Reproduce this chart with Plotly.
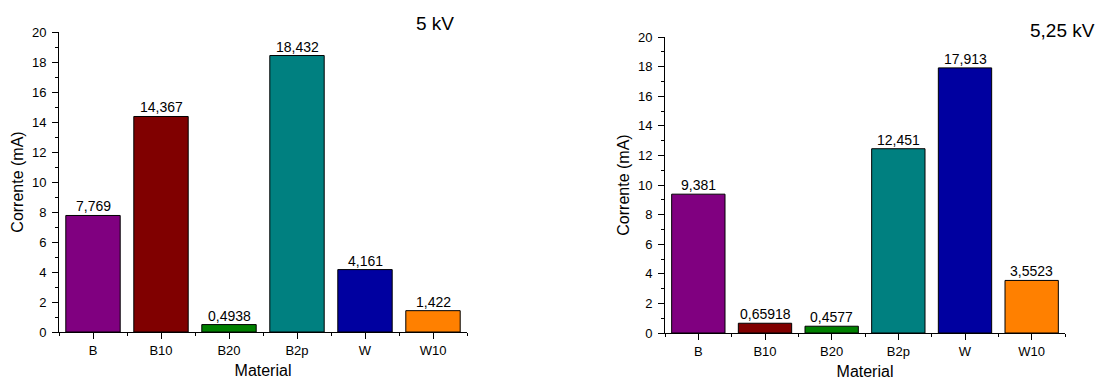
import plotly.graph_objects as go

categories = ["B", "B10", "B20", "B2p", "W", "W10"]
values_5kv = [7.769, 14.367, 0.4938, 18.432, 4.161, 1.422]
values_525kv = [9.381, 0.65918, 0.4577, 12.451, 17.913, 3.5523]
bar_colors = ["#800080", "#800000", "#008000", "#008080", "#0000A0", "#FF8000"]
titles = ["5 kV", "5,25 kV"]

FONT = "Liberation Sans, Arial, sans-serif"

def fmt(v):
    return str(v).replace(".", ",")

fig = go.Figure()
xs = list(range(len(categories)))
annotations = []
for i, vals in enumerate([values_5kv, values_525kv]):
    xa = "x" if i == 0 else "x2"
    ya = "y" if i == 0 else "y2"
    fig.add_trace(go.Bar(
        x=xs, y=vals, xaxis=xa, yaxis=ya,
        marker=dict(color=bar_colors, line=dict(color="black", width=1)),
        width=0.8, showlegend=False,
    ))
    for xv, v in zip(xs, vals):
        annotations.append(dict(
            x=xv, y=v, xref=xa, yref=ya, text=fmt(v), showarrow=False,
            yanchor="bottom", yshift=-1,
            font=dict(size=14, color="black", family=FONT),
        ))

axis_common = dict(
    showline=True, linecolor="black", linewidth=1, ticks="outside",
    tickcolor="black", tickfont=dict(size=13, color="black", family=FONT),
    showgrid=False, zeroline=False, automargin=False,
)
xcommon = dict(axis_common, range=[-0.5, 5.5], tickvals=xs, ticktext=categories,
               ticklen=6, minor=dict(tick0=-0.5, dtick=1, ticks="outside", ticklen=3, tickcolor="black"),
               title=dict(text="Material", font=dict(size=16, color="black", family=FONT), standoff=8))
ycommon = dict(axis_common, range=[0, 20], dtick=2, ticklen=6, ticklabelstandoff=3,
               minor=dict(dtick=1, ticks="outside", ticklen=3, tickcolor="black"),
               title=dict(text="Corrente (mA)", font=dict(size=16, color="black", family=FONT), standoff=4))

annotations += [
    dict(text=titles[0], x=456/1101, y=1-24/380, xref="paper", yref="paper",
         xanchor="right", yanchor="middle",
         showarrow=False, font=dict(size=19, color="black", family=FONT)),
    dict(text=titles[1], x=1097/1101, y=1-30/380, xref="paper", yref="paper",
         xanchor="right", yanchor="middle",
         showarrow=False, font=dict(size=19, color="black", family=FONT)),
]

fig.update_layout(
    width=1101, height=380, margin=dict(l=0, r=0, t=0, b=0, autoexpand=False),
    paper_bgcolor="white", plot_bgcolor="white",
    xaxis=dict(xcommon, domain=[59/1101, 467/1101], anchor="y"),
    yaxis=dict(ycommon, domain=[48/380, 348/380], anchor="x"),
    xaxis2=dict(xcommon, domain=[665/1101, 1065/1101], anchor="y2"),
    yaxis2=dict(ycommon, domain=[47/380, 343/380], anchor="x2"),
    annotations=annotations,
)

fig.write_html("out.html", config={"displayModeBar": False},
               post_script="document.body.style.margin='0';document.body.style.padding='0';")
